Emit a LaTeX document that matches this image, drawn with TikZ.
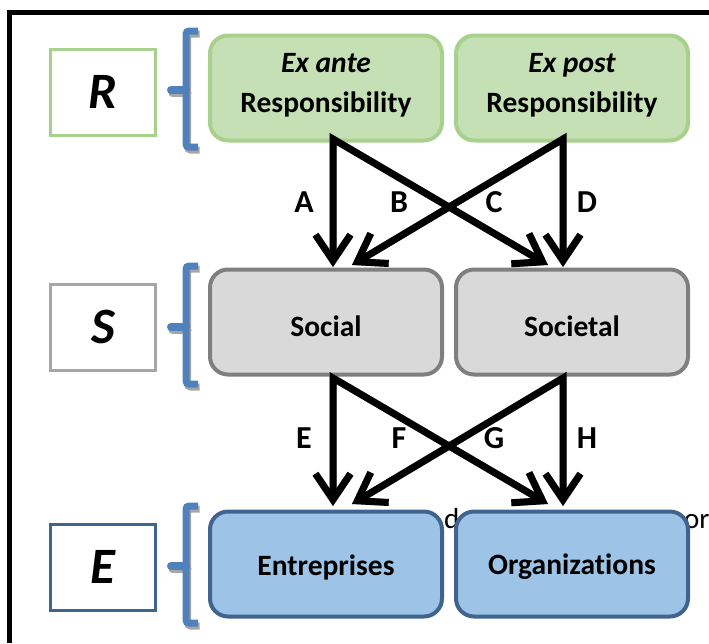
\documentclass[tikz,border=0pt]{standalone}
\usepackage{fontspec}
\setmainfont[Ligatures=NoCommon]{Carlito}
\usetikzlibrary{arrows.meta}
\definecolor{grnfill}{HTML}{C5E0B4}
\definecolor{grnline}{HTML}{A9D18E}
\definecolor{gryfill}{HTML}{D9D9D9}
\definecolor{gryline}{HTML}{7F7F7F}
\definecolor{grylabel}{HTML}{A6A6A6}
\definecolor{blufill}{HTML}{9DC3E6}
\definecolor{bluline}{HTML}{41648F}
\definecolor{bracecol}{HTML}{4F81BD}
\definecolor{shadowcol}{HTML}{A6A6A6}
% shift a line of box text vertically without changing its box
\newcommand{\shiftline}[2]{\raisebox{#1}[\height][\depth]{#2}}

\begin{document}
\begin{tikzpicture}[x=1pt,y=-1pt,
  >={Straight Barb[length=26pt,width=35pt]},
  box/.style={draw, line width=4pt, rounded corners=18pt,
    minimum width=232pt, minimum height=105pt, align=center,
    font=\fontsize{29.5}{40}\selectfont\bfseries},
  greenbox/.style={box, draw=grnline, fill=grnfill},
  greybox/.style={box, draw=gryline, fill=gryfill},
  bluebox/.style={box, draw=bluline, fill=blufill},
  levelbox/.style={draw, line width=3pt, fill=white,
    minimum width=105pt, minimum height=86pt,
    font=\fontsize{51}{51}\selectfont\bfseries\itshape},
  letter/.style={font=\fontsize{32}{32}\selectfont\bfseries, inner sep=0pt},
  arr/.style={line width=7pt, <->, line join=miter},
  arrshadow/.style={arr, draw=shadowcol, shift={(2.5,2.5)}},
  bracket/.style={draw=bracecol, line width=7pt, rounded corners=3pt},
  bracketshadow/.style={draw=shadowcol, line width=7pt, rounded corners=3pt, shift={(1.5,3)}},
  tick/.style={draw=bracecol, line width=8pt, line cap=round},
  tickshadow/.style={draw=shadowcol, line width=8pt, line cap=round, shift={(1.5,3)}},
  stray/.style={font=\fontsize{29}{29}\selectfont, anchor=base west, inner sep=0pt}
]
\useasboundingbox (0,0) rectangle (709,643);

% outer frame (open to the right and bottom)
\draw[line width=5pt, line join=miter] (9.5,643) -- (9.5,12.5) -- (709,12.5);

% text line running behind the bottom row
\node[stray] (strayd) at (444,528) {d};
\node[stray] (strayor) at (684,528) {or};

% level labels
\node[levelbox, draw=grnline] (lR) at (103,92) {R};
\node[levelbox, draw=grylabel] (lS) at (103,327) {S};
\node[levelbox, draw=bluline] (lE) at (103,567) {E};

% brackets
\foreach \yt/\ym/\yb in {31/90/147, 266/327/384, 506/566/623}{
  \draw[bracketshadow] (198,\yt) -- (186,\yt) -- (186,\yb) -- (198,\yb);
  \draw[tickshadow] (186,\ym) -- (171,\ym);
  \draw[bracket] (198,\yt) -- (186,\yt) -- (186,\yb) -- (198,\yb);
  \draw[tick] (186,\ym) -- (171,\ym);
}

% boxes
\node[greenbox] (exante) at (326,88) {\shiftline{3pt}{\itshape Ex ante}\\\shiftline{3pt}{Responsibility}};
\node[greenbox] (expost) at (572,88) {\shiftline{3pt}{\itshape Ex post}\\\shiftline{3pt}{Responsibility}};
\node[greybox] (social) at (326,322) {\shiftline{-4pt}{Social}};
\node[greybox] (societal) at (572,322) {\shiftline{-4pt}{Societal}};
\node[bluebox] (entre) at (326,564) {\shiftline{-3pt}{Entreprises}};
\node[bluebox] (organ) at (572,564) {\shiftline{-3pt}{Organizations}};

% connector end points
\coordinate (exanteV) at (333,139);
\coordinate (expostV) at (563,139);
\coordinate (socialA) at (333,267);
\coordinate (socialC) at (352,265);
\coordinate (societalB) at (548,265);
\coordinate (societalD) at (563,267);
\coordinate (socialV) at (333,378);
\coordinate (societalV) at (563,378);
\coordinate (entreE) at (333,506);
\coordinate (entreG) at (352,504);
\coordinate (organF) at (548,504);
\coordinate (organH) at (563,506);

% connector shadows
\draw[arrshadow] (socialA) -- (exanteV) -- (societalB);
\draw[arrshadow] (socialC) -- (expostV) -- (societalD);
\draw[arrshadow] (entreE) -- (socialV) -- (organF);
\draw[arrshadow] (entreG) -- (societalV) -- (organH);

% connectors
\draw[arr] (socialA) -- (exanteV) -- (societalB);
\draw[arr] (socialC) -- (expostV) -- (societalD);
\draw[arr] (entreE) -- (socialV) -- (organF);
\draw[arr] (entreG) -- (societalV) -- (organH);

% connector labels
\node[letter] (lblA) at (304,202) {A};
\node[letter] (lblB) at (399,202) {B};
\node[letter] (lblC) at (494,202) {C};
\node[letter] (lblD) at (587,202) {D};
\node[letter] (lblE) at (304,438) {E};
\node[letter] (lblF) at (399,438) {F};
\node[letter] (lblG) at (494,438) {G};
\node[letter] (lblH) at (587,438) {H};
\end{tikzpicture}
\end{document}
